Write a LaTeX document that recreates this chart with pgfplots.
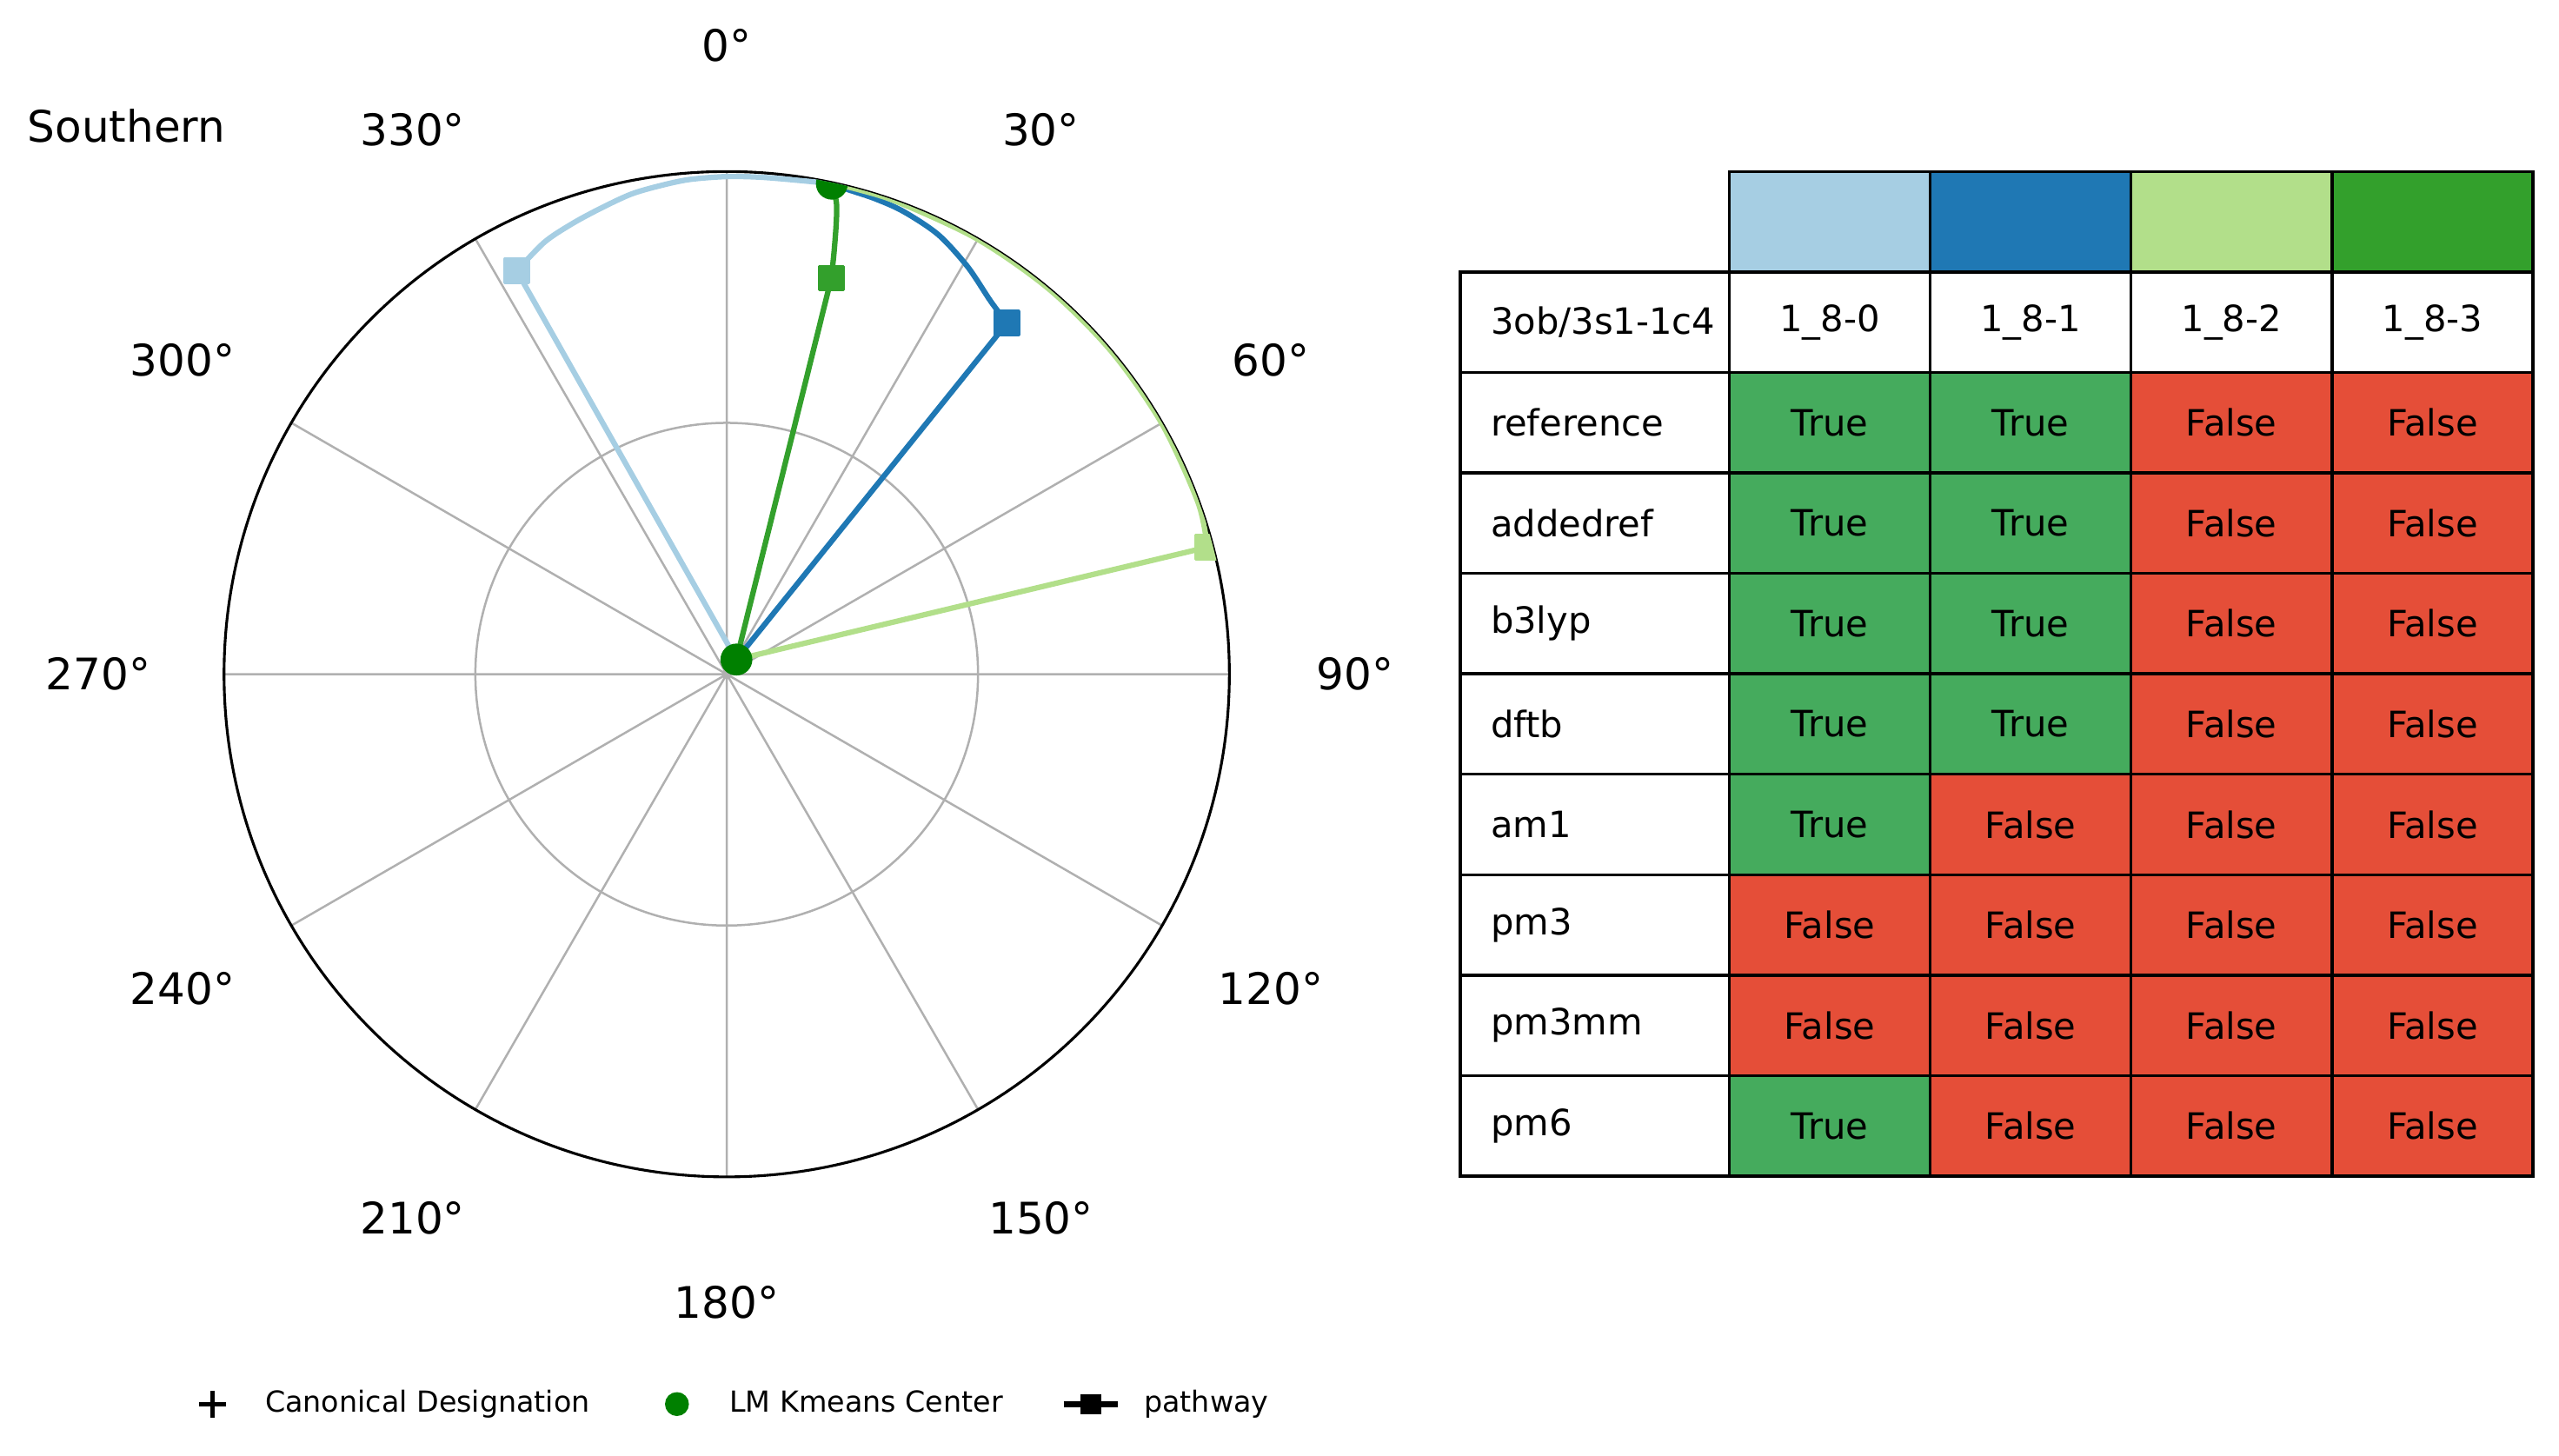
\documentclass[border=0pt]{standalone}
\usepackage{pgfplots}
\pgfplotsset{compat=1.18}
\usepackage{pgfplotstable}
\usepgfplotslibrary{polar}
\usepackage{fontspec}
\setmainfont{DejaVu Sans}

\definecolor{cA}{HTML}{A6CEE3}
\definecolor{cB}{HTML}{1F78B4}
\definecolor{cC}{HTML}{B2DF8A}
\definecolor{cD}{HTML}{33A02C}
\definecolor{kgreen}{HTML}{008000}
\definecolor{gridc}{HTML}{B0B0B0}
\definecolor{trueC}{HTML}{45AB5D}
\definecolor{falseC}{HTML}{E54E38}

% compass angle a (0 = north, clockwise), radius r
% row 0: start (Kmeans centre), row 1: pathway waypoint, rows 2..: arc to end centre
\pgfplotstableread{
a r
33.5 0.035
332.5 0.9045
337.15 0.933
341.2 0.948
345.1 0.961
348.8 0.974
352.3 0.981
355.7 0.987
0.0 0.990
4.0 0.991
9.0 0.9935
12.1 0.998
}\pathA
\pgfplotstableread{
a r
33.5 0.035
38.6 0.894
35.3 0.909
30.56 0.942
25.7 0.9705
20.9 0.9855
17.3 0.991
14.1 0.9937
12.1 0.998
}\pathB
\pgfplotstableread{
a r
33.5 0.035
75.2 0.989
70 0.998
60 0.999
50 0.999
40 0.999
30 0.999
20 0.999
15 0.999
12.1 0.998
}\pathC
\pgfplotstableread{
a r
33.5 0.035
14.8 0.815
14.27 0.8666
13.65 0.9235
13.1 0.963
12.1 0.998
}\pathD
\pgfplotstableread{
a r
33.5 0.035
12.1 0.998
}\centers

\newcommand{\tablefont}{\fontsize{10}{12}\selectfont}
\newcommand{\cellT}[2]{%
  \filldraw[fill=trueC, draw=black, line width=0.8pt] ({1059.6+#1*123.1},{105.1+#2*61.55}) rectangle ++(123.1,61.55);
  \node[font=\tablefont] at ({1059.6+#1*123.1+61.55},{105.1+#2*61.55+30.78}) {True};}
\newcommand{\cellF}[2]{%
  \filldraw[fill=falseC, draw=black, line width=0.8pt] ({1059.6+#1*123.1},{105.1+#2*61.55}) rectangle ++(123.1,61.55);
  \node[font=\tablefont] at ({1059.6+#1*123.1+61.55},{105.1+#2*61.55+30.78}) {False};}
\newcommand{\cellN}[2]{%
  \filldraw[fill=white, draw=black, line width=0.8pt] (894.8,{105.1+#1*61.55}) rectangle (1059.6,{105.1+#1*61.55+61.55});
  \node[font=\tablefont, anchor=west, inner sep=0pt] at (913,{105.1+#1*61.55+30.78}) {#2};}
\newcommand{\cellH}[2]{%
  \filldraw[fill=white, draw=black, line width=0.8pt] ({1059.6+#1*123.1},{105.1+61.55}) rectangle ++(123.1,61.55);
  \node[font=\tablefont] at ({1059.6+#1*123.1+61.55},{105.1+61.55+30.78}) {#2};}

\pgfplotsset{
  arcstyle/.style={forget plot, line width=1.5pt, line join=round, smooth, no marks,
    skip coords between index={0}{1}},
  legstyle/.style={forget plot, line width=1.5pt, line join=round, mark=square*,
    mark indices={2}, mark size=3.3pt, mark options={line join=round, line width=0.8pt},
    skip coords between index={2}{100}},
}

\begin{document}
\begin{tikzpicture}
\useasboundingbox (0pt,0pt) rectangle (706.56pt,-401.76pt);
\begin{polaraxis}[
  at={(200.65pt,-186.14pt)}, anchor=center,
  scale only axis, width=277.57pt, height=277.57pt,
  xmin=0, xmax=360, ymin=0, ymax=1,
  xtick={0,30,...,330}, ytick={0.5},
  xticklabels={}, yticklabels={},
  major tick length=0pt,
  xmajorgrids, ymajorgrids,
  grid style={gridc, line width=0.6pt},
  axis line style={black, line width=0.75pt},
  y axis line style={draw=none},
  clip marker paths=true,
  legend style={at={(0.503,-0.226)}, anchor=center, draw=none, fill=none,
    legend columns=3, font=\fontsize{8}{9.6}\selectfont,
    /tikz/every odd column/.append style={column sep=4.5pt},
    /tikz/every even column/.append style={column sep=14pt}},
]
\addlegendimage{legend image code/.code={%
  \path[draw=none, fill=none] (0cm,0cm) rectangle (0.564cm,0.01cm);
  \draw[black, line width=1.3pt, only marks, mark=+, mark size=3.7pt] plot coordinates {(0.282cm,0cm)};}}
\addlegendentry{Canonical Designation}
\addlegendimage{legend image code/.code={%
  \path[draw=none, fill=none] (0cm,0cm) rectangle (0.564cm,0.01cm);
  \draw[kgreen, fill=kgreen, only marks, mark=*, mark size=3.1pt] plot coordinates {(0.282cm,0cm)};}}
\addlegendentry{LM Kmeans Center}
\addlegendimage{legend image code/.code={%
  \path[draw=none, fill=none] (0cm,0cm) rectangle (0.564cm,0.01cm);
  \draw[black, line width=1.6pt] (0.02cm,0cm) -- (0.544cm,0cm);
  \draw[black, fill=black, only marks, mark=square*, mark size=2.6pt] plot coordinates {(0.282cm,0cm)};}}
\addlegendentry{pathway}

% arcs (waypoint -> end centre)
\addplot[arcstyle, cA] table[x expr={mod(450-\thisrow{a},360)}, y=r] {\pathA};
\addplot[arcstyle, cB] table[x expr={mod(450-\thisrow{a},360)}, y=r] {\pathB};
\addplot[arcstyle, cC] table[x expr={mod(450-\thisrow{a},360)}, y=r] {\pathC};
\addplot[arcstyle, cD] table[x expr={mod(450-\thisrow{a},360)}, y=r] {\pathD};
% straight legs (start centre -> waypoint) with waypoint square
\addplot[legstyle, cA] table[x expr={mod(450-\thisrow{a},360)}, y=r] {\pathA};
\addplot[legstyle, cB] table[x expr={mod(450-\thisrow{a},360)}, y=r] {\pathB};
\addplot[legstyle, cC] table[x expr={mod(450-\thisrow{a},360)}, y=r] {\pathC};
\addplot[legstyle, cD] table[x expr={mod(450-\thisrow{a},360)}, y=r] {\pathD};
% LM Kmeans centres
\addplot[forget plot, only marks, kgreen, mark=*, mark size=4.2pt]
  table[x expr={mod(450-\thisrow{a},360)}, y=r] {\centers};

\coordinate (L0) at (axis cs:90,1.25);
\coordinate (L30) at (axis cs:60,1.25);
\coordinate (L60) at (axis cs:30,1.25);
\coordinate (L90) at (axis cs:0,1.25);
\coordinate (L120) at (axis cs:330,1.25);
\coordinate (L150) at (axis cs:300,1.25);
\coordinate (L180) at (axis cs:270,1.25);
\coordinate (L210) at (axis cs:240,1.25);
\coordinate (L240) at (axis cs:210,1.25);
\coordinate (L270) at (axis cs:180,1.25);
\coordinate (L300) at (axis cs:150,1.25);
\coordinate (L330) at (axis cs:120,1.25);
\end{polaraxis}

\foreach \d in {0,30,...,330}
  \node[font=\fontsize{12}{14.4}\selectfont] at (L\d) {\d°};

\begin{scope}[x=0.4506pt, y=-0.4506pt]
\node[font=\fontsize{12}{14.4}\selectfont, anchor=base west, inner sep=0pt] at (16.5,87.3) {Southern};
% header colour swatches
\filldraw[fill=cA, draw=black, line width=0.8pt] (1059.6,105.1) rectangle ++(123.1,61.55);
\filldraw[fill=cB, draw=black, line width=0.8pt] (1182.7,105.1) rectangle ++(123.1,61.55);
\filldraw[fill=cC, draw=black, line width=0.8pt] (1305.8,105.1) rectangle ++(123.1,61.55);
\filldraw[fill=cD, draw=black, line width=0.8pt] (1428.9,105.1) rectangle ++(123.1,61.55);
% header labels
\cellN{1}{3ob/3s1-1c4}
\cellH{0}{1\_8-0}
\cellH{1}{1\_8-1}
\cellH{2}{1\_8-2}
\cellH{3}{1\_8-3}
% rows
\cellN{2}{reference} \cellT{0}{2} \cellT{1}{2} \cellF{2}{2} \cellF{3}{2}
\cellN{3}{addedref}  \cellT{0}{3} \cellT{1}{3} \cellF{2}{3} \cellF{3}{3}
\cellN{4}{b3lyp}     \cellT{0}{4} \cellT{1}{4} \cellF{2}{4} \cellF{3}{4}
\cellN{5}{dftb}      \cellT{0}{5} \cellT{1}{5} \cellF{2}{5} \cellF{3}{5}
\cellN{6}{am1}       \cellT{0}{6} \cellF{1}{6} \cellF{2}{6} \cellF{3}{6}
\cellN{7}{pm3}       \cellF{0}{7} \cellF{1}{7} \cellF{2}{7} \cellF{3}{7}
\cellN{8}{pm3mm}     \cellF{0}{8} \cellF{1}{8} \cellF{2}{8} \cellF{3}{8}
\cellN{9}{pm6}       \cellT{0}{9} \cellF{1}{9} \cellF{2}{9} \cellF{3}{9}
\end{scope}
\end{tikzpicture}
\end{document}
